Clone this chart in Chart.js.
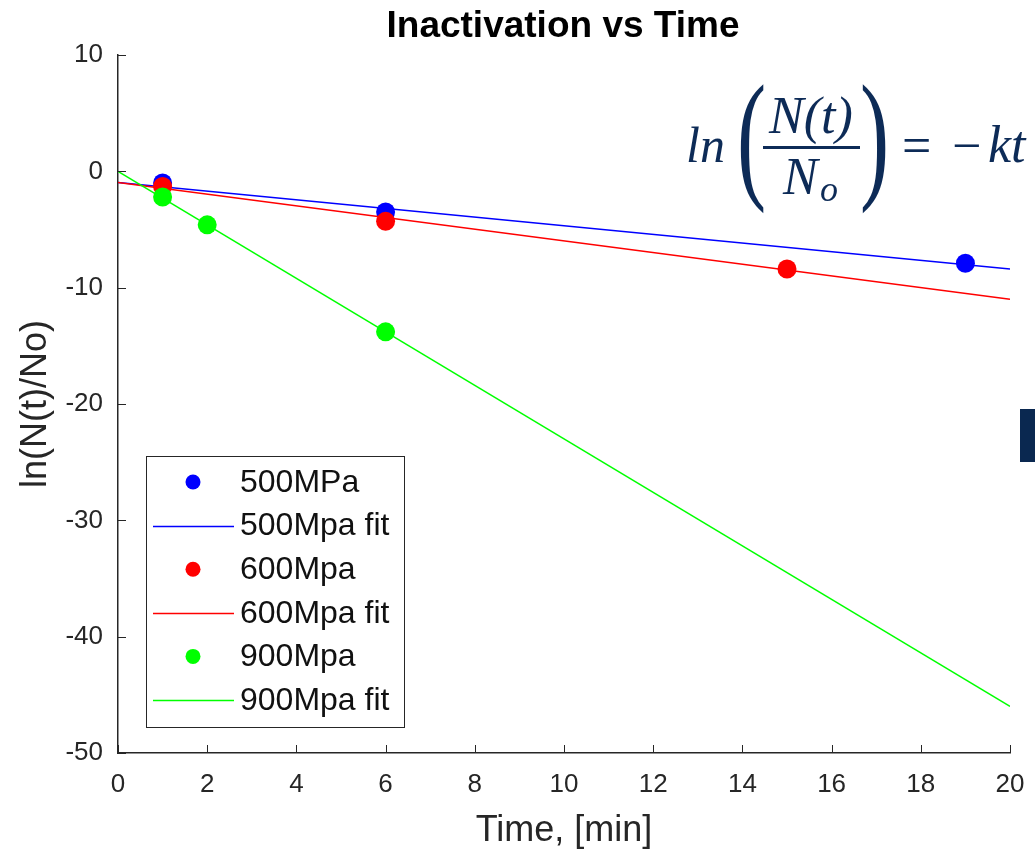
<!DOCTYPE html>
<html>
<head>
<meta charset="utf-8">
<title>Inactivation vs Time</title>
<script src="https://cdn.jsdelivr.net/npm/chart.js@4.4.1/dist/chart.umd.min.js"></script>
<style>
    html, body { margin: 0; padding: 0; background: #ffffff; }
    #wrap { position: relative; width: 1035px; height: 853px; }
</style>
</head>
<body>
<div id="wrap"><canvas id="inactivationChart" width="1035" height="853"></canvas></div>
<script>
// measured points, ln(N(t)/No) against time in minutes
const time500 = [1, 6, 19];
const ln500 = [-1.0, -3.5, -7.9];
const time600 = [1, 6, 15];
const ln600 = [-1.3, -4.3, -8.4];
const time900 = [1, 2, 6];
const ln900 = [-2.2, -4.6, -13.8];

// linear fits, evaluated at the ends of the time axis
const fitTime = [0, 20];
const fit500 = [-0.95, -8.4];
const fit600 = [-0.95, -11.0];
const fit900 = [0, -46.0];

const seriesLabels = ['500MPa', '500Mpa fit', '600Mpa', '600Mpa fit', '900Mpa', '900Mpa fit'];
const xTicks = [0, 2, 4, 6, 8, 10, 12, 14, 16, 18, 20];
const yTicks = [-50, -40, -30, -20, -10, 0, 10];

const AXIS_COLOR = '#262626';
const NAVY = '#0d2b57';

const toXY = (xs, ys) => xs.map((x, i) => ({ x: x, y: ys[i] }));

function pointSet(label, xs, ys, color, order) {
    return {
        label: label,
        data: toXY(xs, ys),
        showLine: false,
        pointRadius: 9.5,
        pointHoverRadius: 9.5,
        pointBackgroundColor: color,
        pointBorderColor: color,
        pointBorderWidth: 0,
        order: order
    };
}

function fitSet(label, ys, color, order) {
    return {
        label: label,
        data: toXY(fitTime, ys),
        showLine: true,
        borderColor: color,
        borderWidth: 1.5,
        pointRadius: 0,
        fill: false,
        order: order
    };
}

// MATLAB style: ticks point into the plot, no top/right box
const innerTicks = {
    id: 'innerTicks',
    afterDatasetsDraw(chart) {
        const { ctx, chartArea, scales } = chart;
        ctx.save();
        ctx.strokeStyle = AXIS_COLOR;
        ctx.lineWidth = 1;
        xTicks.forEach(v => {
            const px = Math.round(scales.x.getPixelForValue(v)) + 0.5;
            ctx.beginPath();
            ctx.moveTo(px, chartArea.bottom);
            ctx.lineTo(px, chartArea.bottom - 8);
            ctx.stroke();
        });
        yTicks.forEach(v => {
            const py = Math.round(scales.y.getPixelForValue(v)) + 0.5;
            ctx.beginPath();
            ctx.moveTo(chartArea.left, py);
            ctx.lineTo(chartArea.left + 8, py);
            ctx.stroke();
        });
        ctx.restore();
    }
};

// legend box in the lower left of the axes
const boxLegend = {
    id: 'boxLegend',
    afterDraw(chart) {
        const ctx = chart.ctx;
        const box = { left: 146, top: 456, width: 258, height: 271 };
        ctx.save();
        ctx.fillStyle = '#ffffff';
        ctx.fillRect(box.left, box.top, box.width, box.height);
        ctx.strokeStyle = AXIS_COLOR;
        ctx.lineWidth = 1;
        ctx.strokeRect(box.left + 0.5, box.top + 0.5, box.width, box.height);

        ctx.font = '32px "Liberation Sans", Arial, sans-serif';
        ctx.textBaseline = 'middle';
        ctx.textAlign = 'left';
        const byLabel = {};
        chart.data.datasets.forEach(ds => { byLabel[ds.label] = ds; });
        seriesLabels.forEach((label, i) => {
            const ds = byLabel[label];
            const cy = 482 + i * 43.6;
            if (ds.showLine) {
                ctx.strokeStyle = ds.borderColor;
                ctx.lineWidth = 1.5;
                ctx.beginPath();
                ctx.moveTo(153, Math.round(cy) + 0.5);
                ctx.lineTo(234, Math.round(cy) + 0.5);
                ctx.stroke();
            } else {
                ctx.fillStyle = ds.pointBackgroundColor;
                ctx.beginPath();
                ctx.arc(193, cy, 7.5, 0, Math.PI * 2);
                ctx.fill();
            }
            ctx.fillStyle = '#111111';
            ctx.fillText(label, 240, cy + 1);
        });
        ctx.restore();
    }
};

// title, the rate law and the dark tab on the right edge
const annotations = {
    id: 'annotations',
    afterDraw(chart) {
        const ctx = chart.ctx;
        ctx.save();
        ctx.fillStyle = '#000000';
        ctx.font = 'bold 37px "Liberation Sans", Arial, sans-serif';
        ctx.textAlign = 'center';
        ctx.textBaseline = 'alphabetic';
        ctx.fillText('Inactivation vs Time', 563, 37);

        const serif = '"Liberation Serif", "Times New Roman", serif';
        ctx.fillStyle = NAVY;
        ctx.textAlign = 'left';
        ctx.font = 'italic 50px ' + serif;
        ctx.fillText('ln', 686, 162);

        // tall brackets around the fraction
        ctx.save();
        ctx.font = '141px ' + serif;
        ctx.translate(737, 183);
        ctx.scale(0.62, 1);
        ctx.fillText('(', 0, 0);
        ctx.restore();
        ctx.save();
        ctx.font = '141px ' + serif;
        ctx.translate(860, 183);
        ctx.scale(0.62, 1);
        ctx.fillText(')', 0, 0);
        ctx.restore();

        ctx.fillRect(763, 146, 97, 3);
        ctx.textAlign = 'center';
        ctx.font = 'italic 52px ' + serif;
        ctx.fillText('N(t)', 811, 133);
        ctx.textAlign = 'left';
        ctx.fillText('N', 783, 194);
        ctx.font = 'italic 36px ' + serif;
        ctx.fillText('o', 820, 201);

        ctx.font = '52px ' + serif;
        ctx.fillText('=', 902, 163);
        ctx.fillText('\u2212', 952, 163);
        ctx.font = 'italic 52px ' + serif;
        ctx.fillText('kt', 988, 162);

        ctx.fillStyle = '#0a2850';
        ctx.fillRect(1020, 409, 15, 53);
        ctx.restore();
    }
};

const ctx = document.getElementById('inactivationChart').getContext('2d');
const tickFont = { family: '"Liberation Sans", Arial, sans-serif', size: 26 };
const titleFont = { family: '"Liberation Sans", Arial, sans-serif', size: 36 };

new Chart(ctx, {
    type: 'scatter',
    data: {
        datasets: [
            pointSet(seriesLabels[0], time500, ln500, '#0000ff', 6),
            fitSet(seriesLabels[1], fit500, '#0000ff', 5),
            pointSet(seriesLabels[2], time600, ln600, '#ff0000', 4),
            fitSet(seriesLabels[3], fit600, '#ff0000', 3),
            pointSet(seriesLabels[4], time900, ln900, '#00ff00', 2),
            fitSet(seriesLabels[5], fit900, '#00ff00', 1)
        ]
    },
    options: {
        responsive: false,
        animation: false,
        layout: { padding: { top: 55, right: 25, left: 0, bottom: 0 } },
        plugins: {
            legend: { display: false },
            title: { display: false },
            tooltip: { enabled: false }
        },
        scales: {
            x: {
                type: 'linear',
                min: 0,
                max: 20,
                afterFit: (scale) => {
                    scale.height = 100;
                    scale.paddingLeft = 0;
                    scale.paddingRight = 0;
                },
                afterBuildTicks: (scale) => { scale.ticks = xTicks.map(v => ({ value: v })); },
                ticks: { color: AXIS_COLOR, font: tickFont, padding: 16, maxRotation: 0 },
                grid: { display: false, drawTicks: false },
                border: { display: true, color: AXIS_COLOR, width: 1.5 },
                title: {
                    display: true,
                    text: 'Time, [min]',
                    color: AXIS_COLOR,
                    font: titleFont,
                    padding: { top: 0, bottom: 0 }
                }
            },
            y: {
                type: 'linear',
                min: -50,
                max: 10,
                afterFit: (scale) => {
                    scale.width = 118;
                    scale.paddingTop = 0;
                    scale.paddingBottom = 0;
                },
                afterBuildTicks: (scale) => { scale.ticks = yTicks.map(v => ({ value: v })); },
                ticks: { color: AXIS_COLOR, font: tickFont, padding: 15 },
                grid: { display: false, drawTicks: false },
                border: { display: true, color: AXIS_COLOR, width: 1.5 },
                title: {
                    display: true,
                    text: 'ln(N(t)/No)',
                    color: AXIS_COLOR,
                    font: titleFont,
                    padding: { top: 14, bottom: 0 }
                }
            }
        }
    },
    plugins: [innerTicks, boxLegend, annotations]
});
</script>
</body>
</html>
